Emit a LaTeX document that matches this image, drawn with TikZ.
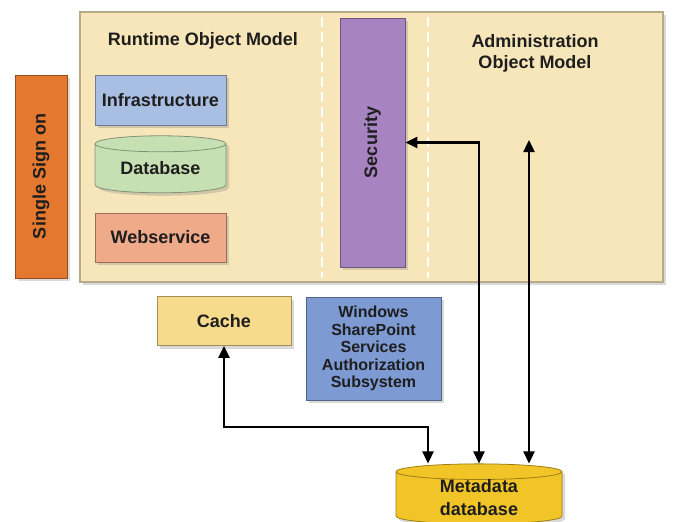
\documentclass[tikz,border=0pt]{standalone}
\usepackage{fontspec}
\setmainfont{Liberation Sans}
\usetikzlibrary{arrows.meta,shapes.geometric,shadows}

\definecolor{panelbg}{HTML}{F6E6B9}
\definecolor{panelbd}{HTML}{B8AA86}
\definecolor{infracol}{HTML}{A8BEE2}
\definecolor{dbcol}{HTML}{C6E0B4}
\definecolor{webcol}{HTML}{EFAA8A}
\definecolor{ssocol}{HTML}{E4782F}
\definecolor{seccol}{HTML}{A883C2}
\definecolor{cachecol}{HTML}{F6DB8C}
\definecolor{wsscol}{HTML}{7D9AD3}
\definecolor{metacol}{HTML}{F1C427}
\definecolor{txtcol}{HTML}{1E1E1E}

\begin{document}
\begin{tikzpicture}[x=1pt,y=-1pt,
  every node/.style={font=\fontsize{18}{21}\selectfont\bfseries, text=txtcol},
  box/.style={draw=#1!65!black, fill=#1, line width=0.8pt, inner sep=0pt,
    drop shadow={shadow xshift=3pt, shadow yshift=-3pt, opacity=0.3}},
  cyl/.style={box=#1, cylinder, shape border rotate=90, aspect=0.2,
    cylinder uses custom fill, cylinder body fill=#1, cylinder end fill=#1!65!white},
  divider/.style={white, line width=2pt, dash pattern=on 10pt off 5pt},
  link/.style={{Triangle[length=12pt,width=11pt]}-{Triangle[length=12pt,width=11pt]}, line width=2.4pt, black}]
\useasboundingbox (0,0) rectangle (673,522);

\node[box=panelbg, draw=panelbd, line width=1.2pt, minimum width=583, minimum height=270] (panel) at (371.5,147) {};
\draw[divider] (322,17) -- (322,278);
\draw[divider] (428,17) -- (428,278);

\node (rtitle) at (203,41) {Runtime Object Model};
\node[align=center] (atitle) at (535,53) {Administration\\Object Model};

\node[box=infracol, minimum width=131, minimum height=50] (infra) at (160.5,100) {Infrastructure};
\node[cyl=dbcol, minimum width=131, minimum height=57] (db) at (160.5,168.5) {Database};
\node[box=webcol, minimum width=131, minimum height=49] (web) at (160.5,237.5) {Webservice};
\node[box=ssocol, minimum width=52, minimum height=203] (sso) at (41,176.5) {\rotatebox{90}{Single Sign on}};
\node[box=seccol, minimum width=65, minimum height=249] (sec) at (372.5,142.5) {\rotatebox{90}{Security}};

\node[box=cachecol, minimum width=134, minimum height=49] (cache) at (224,321) {Cache};
\node[box=wsscol, minimum width=135, minimum height=103, align=center,
  font=\fontsize{16}{17.5}\selectfont\bfseries] (wss) at (373.5,348.5)
  {Windows\\SharePoint\\Services\\Authorization\\Subsystem};
\node[cyl=metacol, minimum width=166, minimum height=58, align=center,
  font=\fontsize{18}{23}\selectfont\bfseries] (meta) at (479,498) {Metadata\\database};

\coordinate (adm) at (529,140);
\draw[link] (cache.south) -- ++(0,81) -| ([xshift=-51pt]meta.north);
\draw[link] (sec.east) -| (meta.north);
\draw[link] (adm) -- (adm |- meta.north);
\end{tikzpicture}
\end{document}
